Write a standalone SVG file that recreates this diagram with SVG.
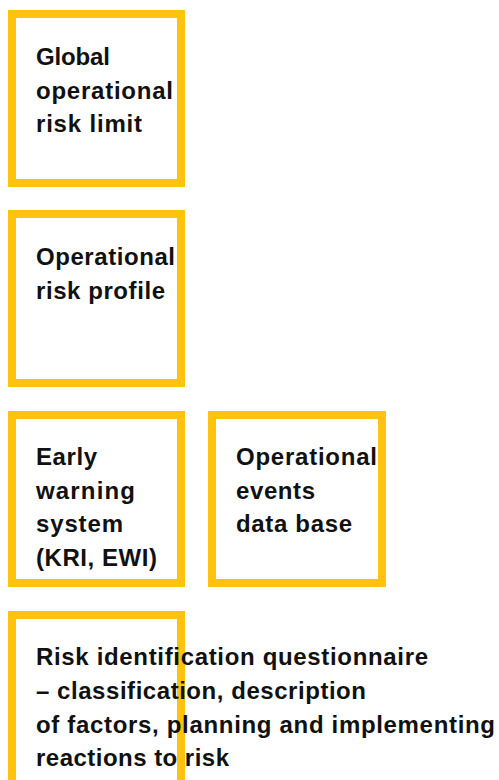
<svg xmlns="http://www.w3.org/2000/svg" width="499" height="780" viewBox="0 0 499 780">
<style>
.box{fill:none;stroke:#FFC20F;stroke-width:8}
.t{font-family:"Liberation Sans",Arial,sans-serif;font-weight:bold;font-size:24px;fill:#111}
</style>
<rect width="499" height="780" fill="#fff"/>
<g id="connectors"/>
<g id="node-global">
<rect class="box" x="12" y="14" width="169" height="169"/>
<text class="t"><tspan x="36" y="65" textLength="74">Global</tspan><tspan x="36" y="99" textLength="137">operational</tspan><tspan x="36" y="132" textLength="106">risk limit</tspan></text>
</g>
<g id="node-profile">
<rect class="box" x="12" y="214" width="169" height="169"/>
<text class="t"><tspan x="36" y="265" textLength="139">Operational</tspan><tspan x="36" y="299" textLength="129">risk profile</tspan></text>
</g>
<g id="node-ews">
<rect class="box" x="12" y="415" width="169" height="168"/>
<text class="t"><tspan x="36" y="465" textLength="61">Early</tspan><tspan x="36" y="499" textLength="99">warning</tspan><tspan x="36" y="532" textLength="87">system</tspan><tspan x="36" y="566" textLength="121">(KRI, EWI)</tspan></text>
</g>
<g id="node-events">
<rect class="box" x="212" y="415" width="170" height="168"/>
<text class="t"><tspan x="236" y="465" textLength="141">Operational</tspan><tspan x="236" y="499" textLength="79">events</tspan><tspan x="236" y="532" textLength="116">data base</tspan></text>
</g>
<g id="node-questionnaire">
<rect class="box" x="12" y="615" width="169" height="200"/>
<text class="t"><tspan x="36" y="665" textLength="392">Risk identification questionnaire</tspan><tspan x="36" y="699" textLength="330">– classification, description</tspan><tspan x="36" y="733" textLength="459">of factors, planning and implementing</tspan><tspan x="36" y="766" textLength="193">reactions to risk</tspan></text>
</g>
</svg>
